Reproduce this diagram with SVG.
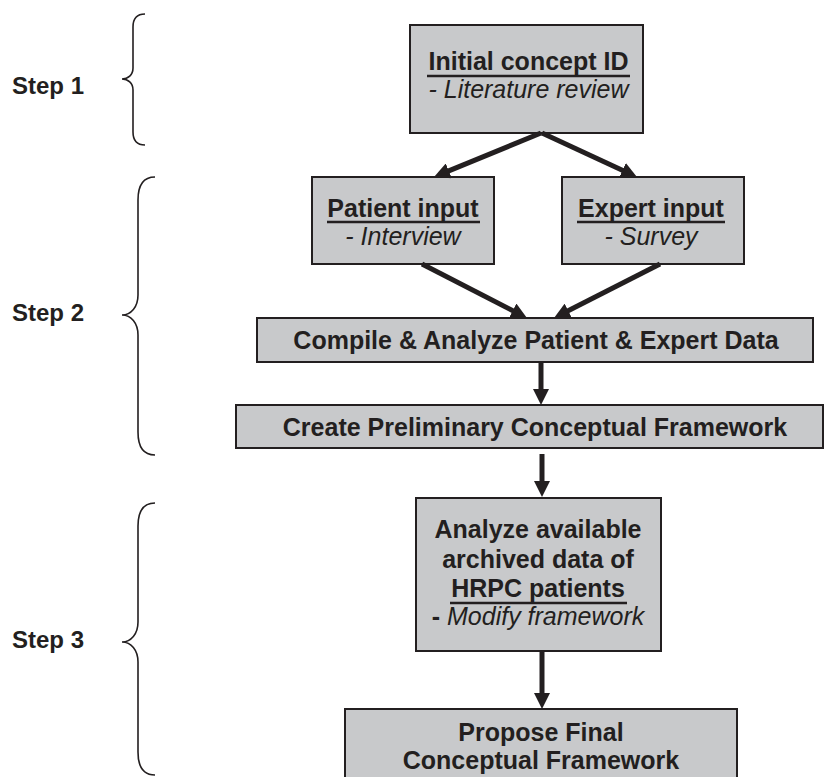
<svg xmlns="http://www.w3.org/2000/svg" width="825" height="777" viewBox="0 0 825 777">
<defs>
<style>
.box{fill:#c8c9cb;stroke:#231f20;stroke-width:2}
.t{font-family:"Liberation Sans",Arial,sans-serif;font-size:25px;font-weight:bold;fill:#231f20;text-anchor:middle}
.i{font-weight:normal;font-style:italic}
.step{font-family:"Liberation Sans",Arial,sans-serif;font-size:24px;font-weight:bold;fill:#231f20}
.ul{stroke:#231f20;stroke-width:2.5}
.brace{fill:none;stroke:#231f20;stroke-width:1.6}
.arr{stroke:#231f20;stroke-width:5;fill:none;marker-end:url(#ah)}
</style>
<marker id="ah" markerUnits="userSpaceOnUse" markerWidth="16" markerHeight="16" viewBox="0 0 16 16" refX="4" refY="8" orient="auto">
<path d="M0,0 L16,8 L0,16 z" fill="#231f20"/>
</marker>
</defs>
<rect width="825" height="777" fill="#ffffff"/>

<g id="step1">
<path class="brace" d="M145,14 C137,14 133,18 133,27 L133,68 C133,75 128,79 122,79 C128,79 133,83 133,90 L133,132 C133,141 137,145 145,145"/>
<text class="step" x="12" y="94">Step 1</text>
</g>
<g id="step2">
<path class="brace" d="M155,177 C143,177 138,185 138,200 L138,295 C138,307 131,315 122,315 C131,315 138,323 138,335 L138,432 C138,447 143,455 155,455"/>
<text class="step" x="12" y="321">Step 2</text>
</g>
<g id="step3">
<path class="brace" d="M155,503 C143,503 138,511 138,526 L138,622 C138,634 131,642 122,642 C131,642 138,650 138,662 L138,752 C138,767 143,775 155,775"/>
<text class="step" x="12" y="648">Step 3</text>
</g>

<g id="initial">
<rect class="box" x="410" y="25" width="233" height="108"/>
<text class="t" x="528.5" y="70">Initial concept ID</text>
<line class="ul" x1="427" y1="76" x2="630" y2="76"/>
<text class="t i" x="528.5" y="98">- Literature review</text>
</g>

<g id="patient">
<rect class="box" x="312" y="177" width="182" height="87"/>
<text class="t" x="403" y="217">Patient input</text>
<line class="ul" x1="327" y1="222" x2="480" y2="222"/>
<text class="t i" x="403" y="245">- Interview</text>
</g>

<g id="expert">
<rect class="box" x="562" y="177" width="182" height="87"/>
<text class="t" x="651" y="217">Expert input</text>
<line class="ul" x1="577" y1="222" x2="725" y2="222"/>
<text class="t i" x="651" y="245">- Survey</text>
</g>

<g id="compile">
<rect class="box" x="257" y="318" width="556" height="44"/>
<text class="t" x="536" y="349">Compile &amp; Analyze Patient &amp; Expert Data</text>
</g>

<g id="create">
<rect class="box" x="236" y="405" width="587" height="43"/>
<text class="t" x="535" y="436">Create Preliminary Conceptual Framework</text>
</g>

<g id="analyze">
<rect class="box" x="416" y="498" width="245" height="153"/>
<text class="t" x="538" y="538">Analyze available</text>
<text class="t" x="538" y="568">archived data of</text>
<text class="t" x="538" y="597">HRPC patients</text>
<line class="ul" x1="450" y1="603" x2="627" y2="603"/>
<text class="t" x="538" y="625">- <tspan class="i">Modify framework</tspan></text>
</g>

<g id="final">
<rect class="box" x="345" y="709" width="392" height="80"/>
<text class="t" x="541" y="741">Propose Final</text>
<text class="t" x="541" y="769">Conceptual Framework</text>
</g>

<g id="connectors">
<line class="arr" x1="541" y1="133" x2="445.1" y2="172.4"/>
<line class="arr" x1="542" y1="133" x2="626.1" y2="172"/>
<line class="arr" x1="422" y1="264" x2="516.3" y2="312.5"/>
<line class="arr" x1="660" y1="264" x2="564.7" y2="312.6"/>
<line class="arr" x1="541" y1="362" x2="541" y2="393"/>
<line class="arr" x1="542" y1="454" x2="542" y2="485"/>
<line class="arr" x1="542" y1="651" x2="542" y2="697"/>
</g>
</svg>
